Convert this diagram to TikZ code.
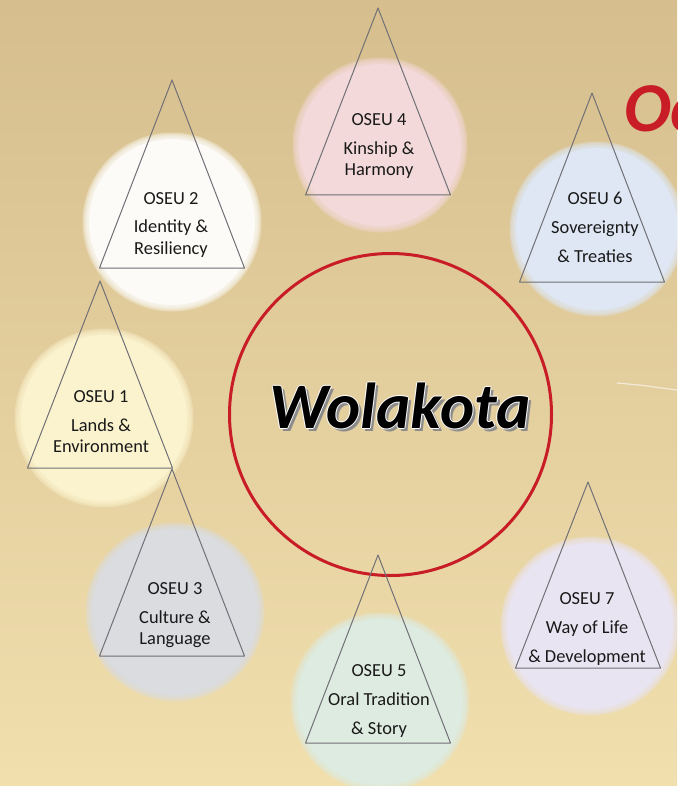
\documentclass[tikz,border=0pt]{standalone}
\usepackage{fontspec}
\setmainfont{Carlito}
\definecolor{bgtop}{RGB}{214,190,142}
\definecolor{bgmid}{RGB}{227,202,142}
\definecolor{bgbottom}{RGB}{241,223,174}
\definecolor{ringred}{RGB}{200,28,38}
\definecolor{trigray}{RGB}{112,112,118}
\definecolor{discpink}{RGB}{243,217,217}
\definecolor{discwhite}{RGB}{252,251,248}
\definecolor{discblue}{RGB}{222,231,243}
\definecolor{discyellow}{RGB}{251,243,206}
\definecolor{discgray}{RGB}{218,220,224}
\definecolor{discgreen}{RGB}{222,235,224}
\definecolor{disclilac}{RGB}{233,228,241}
\newcommand{\softdisc}[3]{% colour, centre, radius
   \fill[#1] #2 circle({#3-5});
   \foreach \d in {-3,-1.5,0,1.5}
      \fill[#1,opacity=.35] #2 circle({#3+\d});
}
\tikzset{
   tri/.style={draw=trigray,line width=1pt,line join=round},
   oseu/.style={anchor=base,align=center,text=black!90,
      font=\fontsize{18.4}{21}\selectfont},
   bigword/.style={font=\fontsize{65}{65}\selectfont\bfseries\itshape}
}

\begin{document}
\begin{tikzpicture}[x=1pt,y=-1pt]
   \useasboundingbox (0,0) rectangle (677,786);
   \clip (0,0) rectangle (677,786);
   % parchment
   \shade[top color=bgtop,middle color=bgmid,bottom color=bgbottom] (0,0) rectangle (677,786);
   \draw[white,opacity=.6,line width=1.2pt] (617,383) .. controls (640,385) .. (677,390);
   % red word in the corner
   \node[anchor=base west,text=ringred,inner sep=0pt,
      font=\fontsize{70}{70}\selectfont\bfseries\itshape] (corner) at (624,132) {Oc};
   % discs
   \softdisc{discpink}{(380,145)}{86}
   \softdisc{discwhite}{(172,222)}{88}
   \softdisc{discblue}{(597,229)}{86}
   \softdisc{discyellow}{(104,418)}{88}
   \softdisc{discgray}{(175,612)}{88}
   \softdisc{discgreen}{(380,702)}{88}
   \softdisc{disclilac}{(590,626)}{88}
   % centre ring
   \draw[ringred,line width=3pt] (390.5,414.5) circle(161);
   \node[bigword,text=black!45] at (403,409) {Wolakota};
   \foreach \dx/\dy in {-1/0,1/0,0/-1,0/1}
      \node[bigword,text=white] at (400+\dx,406+\dy) {Wolakota};
   \node[bigword,text=black] (centre) at (400,406) {Wolakota};
   % triangles
   \draw[tri] (378,8)   -- ++(72.5,187) -- ++(-145,0) -- cycle;
   \draw[tri] (172,80)  -- ++(72.5,188) -- ++(-145,0) -- cycle;
   \draw[tri] (592,93)  -- ++(72.5,189) -- ++(-145,0) -- cycle;
   \draw[tri] (100,281) -- ++(72.5,187) -- ++(-145,0) -- cycle;
   \draw[tri] (172,469) -- ++(72.5,187) -- ++(-145,0) -- cycle;
   \draw[tri] (378,555) -- ++(72.5,188) -- ++(-145,0) -- cycle;
   \draw[tri] (588,482) -- ++(72.5,186) -- ++(-145,0) -- cycle;
   % labels (base = last line)
   \node[oseu] (u4) at (379,176) {OSEU 4\\[8pt]Kinship \&\\Harmony};
   \node[oseu] (u2) at (171,254) {OSEU 2\\[8pt]Identity \&\\Resiliency};
   \node[oseu] (u6) at (595,262) {OSEU 6\\[8pt]Sovereignty\\[8pt]\& Treaties};
   \node[oseu] (u1) at (101,452) {OSEU 1\\[8pt]Lands \&\\Environment};
   \node[oseu] (u3) at (175,644) {OSEU 3\\[8pt]Culture \&\\Language};
   \node[oseu] (u5) at (379,734) {OSEU 5\\[8pt]Oral Tradition\\[8pt]\& Story};
   \node[oseu] (u7) at (587,662) {OSEU 7\\[8pt]Way of Life\\[8pt]\& Development};
\end{tikzpicture}
\end{document}
